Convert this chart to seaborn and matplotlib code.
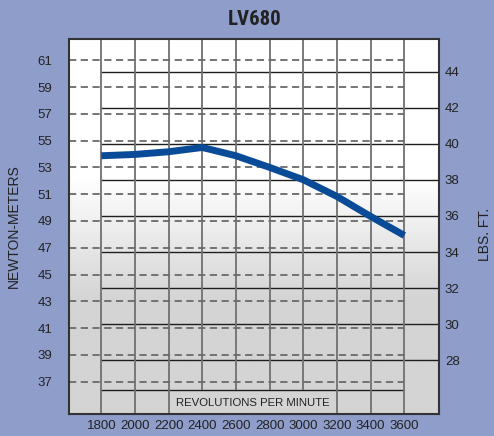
import numpy as np
import matplotlib
matplotlib.use("Agg")
import matplotlib.pyplot as plt
import matplotlib.transforms as mtransforms
from matplotlib.colors import LinearSegmentedColormap
import seaborn as sns
import pandas as pd

# data
rpm = [1800, 2000, 2200, 2400, 2600, 2800, 3000, 3200, 3400, 3600]
torque_nm = [53.87, 53.97, 54.17, 54.49, 53.87, 53.00, 52.08, 50.83, 49.34, 47.92]
nm_ticks = [37, 39, 41, 43, 45, 47, 49, 51, 53, 55, 57, 59, 61]
lbft_ticks = [28, 30, 32, 34, 36, 38, 40, 42, 44]
lbft_extra_line = 26.33
label_gap_rpm = [2400, 2600, 2800, 3000]

title = "LV680"
left_label = "NEWTON-METERS"
right_label = "LBS. FT."
x_label = "REVOLUTIONS PER MINUTE"

sns.set_theme(style="white")
plt.rcParams['font.family'] = ['Liberation Sans', 'DejaVu Sans']

bg = "#8e9dc9"
fig = plt.figure(figsize=(4.94, 4.36), dpi=100, facecolor=bg)
ax = fig.add_axes([0.1403, 0.0505, 0.749, 0.8601])
ax2 = ax.twinx()
ax.set_zorder(2)
ax2.set_zorder(1)
ax.patch.set_visible(False)

xlim = (1610, 3808)
nm_lim = (34.59, 62.59)
lb_lim = (25.02, 45.81)

# background gradient: white on top fading to light grey
grad = np.ones((200, 1))
yy = np.linspace(1, 0, 200)  # axes fraction, top -> bottom
grad[:, 0] = np.clip((0.63 - yy) / (0.63 - 0.30), 0, 1)
cmap = LinearSegmentedColormap.from_list("bg", ["#ffffff", "#d4d4d4"])
ax2.imshow(grad, cmap=cmap, aspect="auto", extent=[0, 1, 0, 1],
           transform=ax2.transAxes, zorder=0, vmin=0, vmax=1)

# lb-ft solid lines
ax2.hlines(lbft_ticks, 1800, xlim[1], color="#1e1e1e", lw=1.0, zorder=2)
ax2.hlines([lbft_extra_line], 1800, rpm[-1], color="#1e1e1e", lw=1.0, zorder=2)
# vertical rpm lines
ymins = [lbft_extra_line if r in label_gap_rpm else lb_lim[0] for r in rpm]
ax2.vlines(rpm, ymins, lb_lim[1], color="#707070", lw=1.3, zorder=2)
ax2.set_xlim(xlim)
ax2.set_ylim(lb_lim)

# newton-meter dashed lines
ax.hlines(nm_ticks, xlim[0], rpm[-1], color="#6a6a6a", lw=1.3,
          linestyles=(0, (4, 2.5)), zorder=2)

df = pd.DataFrame({"rpm": rpm, "nm": torque_nm})
sns.lineplot(data=df, x="rpm", y="nm", ax=ax, color="#0a4b97", lw=5,
             solid_capstyle="butt", solid_joinstyle="round", zorder=5)

ax.set_xlim(xlim)
ax.set_ylim(nm_lim)
ax.set_xticks(rpm)
ax.set_yticks(nm_ticks)
ax2.set_yticks(lbft_ticks)
ax.tick_params(axis="y", length=0, pad=12, labelsize=9.5, colors="#222222")
ax.tick_params(axis="x", length=0, pad=4, labelsize=9.5, colors="#222222")
ax2.tick_params(axis="y", length=0, pad=4, labelsize=9.5, colors="#222222")

ax.set_xlabel("")
ax.set_ylabel(left_label, fontsize=10, color="#222222")
ax.yaxis.set_label_coords(-0.1305, 0.5)
ax2.set_ylabel(right_label, fontsize=10, color="#222222", rotation=90)
ax2.yaxis.set_label_coords(1.1046, 0.48)

trans = mtransforms.blended_transform_factory(ax.transData, ax.transAxes)
ax.text(2700, 0.03, x_label, transform=trans, ha="center", va="center",
        fontsize=8.2, color="#222222", zorder=6)

for a in (ax, ax2):
    for s in a.spines.values():
        s.set_visible(False)
for s in ax.spines.values():
    s.set_visible(True)
    s.set_color("#333333")
    s.set_linewidth(1.5)

ax.set_title(title, fontsize=15, fontweight="bold", color="#222222", pad=10,
             family=["Liberation Sans Narrow", "Roboto Condensed", "Roboto", "DejaVu Sans"])

fig.savefig("out.png", dpi=100, facecolor=bg)
